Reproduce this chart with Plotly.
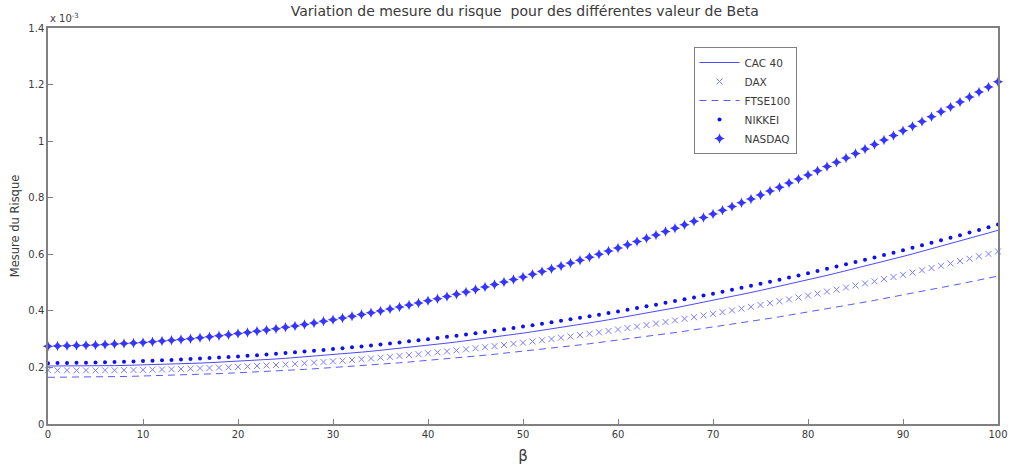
import plotly.graph_objects as go

beta = list(range(0, 101))

cac40 = [0.2050, 0.2049, 0.2049, 0.2050, 0.2052, 0.2055, 0.2059, 0.2064, 0.2070, 0.2077,
         0.2085, 0.2093, 0.2103, 0.2114, 0.2126, 0.2139, 0.2153, 0.2168, 0.2183, 0.2200,
         0.2218, 0.2237, 0.2257, 0.2277, 0.2299, 0.2322, 0.2346, 0.2370, 0.2396, 0.2423,
         0.2451, 0.2479, 0.2509, 0.2540, 0.2571, 0.2604, 0.2638, 0.2672, 0.2708, 0.2744,
         0.2782, 0.2821, 0.2860, 0.2901, 0.2942, 0.2985, 0.3028, 0.3073, 0.3118, 0.3165,
         0.3213, 0.3261, 0.3310, 0.3361, 0.3412, 0.3465, 0.3518, 0.3573, 0.3628, 0.3685,
         0.3742, 0.3800, 0.3860, 0.3920, 0.3982, 0.4044, 0.4107, 0.4172, 0.4237, 0.4303,
         0.4371, 0.4439, 0.4508, 0.4578, 0.4650, 0.4722, 0.4795, 0.4869, 0.4945, 0.5021,
         0.5098, 0.5176, 0.5255, 0.5336, 0.5417, 0.5499, 0.5582, 0.5666, 0.5751, 0.5837,
         0.5924, 0.6013, 0.6102, 0.6192, 0.6283, 0.6375, 0.6468, 0.6562, 0.6657, 0.6753,
         0.6850]

dax = [0.1900, 0.1897, 0.1896, 0.1895, 0.1895, 0.1896, 0.1898, 0.1901, 0.1905, 0.1909,
       0.1915, 0.1921, 0.1929, 0.1937, 0.1946, 0.1956, 0.1967, 0.1979, 0.1992, 0.2005,
       0.2020, 0.2035, 0.2052, 0.2069, 0.2087, 0.2106, 0.2126, 0.2147, 0.2169, 0.2191,
       0.2215, 0.2239, 0.2265, 0.2291, 0.2318, 0.2346, 0.2375, 0.2405, 0.2436, 0.2467,
       0.2500, 0.2533, 0.2568, 0.2603, 0.2639, 0.2676, 0.2714, 0.2753, 0.2793, 0.2833,
       0.2875, 0.2917, 0.2961, 0.3005, 0.3050, 0.3096, 0.3143, 0.3191, 0.3240, 0.3289,
       0.3340, 0.3391, 0.3444, 0.3497, 0.3551, 0.3606, 0.3662, 0.3719, 0.3777, 0.3835,
       0.3895, 0.3955, 0.4017, 0.4079, 0.4142, 0.4206, 0.4271, 0.4337, 0.4404, 0.4471,
       0.4540, 0.4609, 0.4680, 0.4751, 0.4823, 0.4896, 0.4970, 0.5045, 0.5121, 0.5197,
       0.5275, 0.5353, 0.5433, 0.5513, 0.5594, 0.5676, 0.5759, 0.5843, 0.5928, 0.6013,
       0.6100]

ftse100 = [0.1650, 0.1651, 0.1653, 0.1656, 0.1660, 0.1664, 0.1669, 0.1674, 0.1680, 0.1687,
           0.1695, 0.1703, 0.1712, 0.1722, 0.1732, 0.1743, 0.1755, 0.1768, 0.1781, 0.1795,
           0.1809, 0.1824, 0.1840, 0.1857, 0.1874, 0.1893, 0.1911, 0.1931, 0.1951, 0.1972,
           0.1993, 0.2015, 0.2038, 0.2062, 0.2086, 0.2111, 0.2137, 0.2163, 0.2191, 0.2218,
           0.2247, 0.2276, 0.2306, 0.2336, 0.2368, 0.2400, 0.2432, 0.2466, 0.2500, 0.2535,
           0.2570, 0.2606, 0.2643, 0.2681, 0.2719, 0.2758, 0.2797, 0.2838, 0.2879, 0.2920,
           0.2963, 0.3006, 0.3050, 0.3094, 0.3139, 0.3185, 0.3232, 0.3279, 0.3327, 0.3376,
           0.3425, 0.3475, 0.3526, 0.3577, 0.3630, 0.3683, 0.3736, 0.3790, 0.3845, 0.3901,
           0.3957, 0.4014, 0.4072, 0.4130, 0.4189, 0.4249, 0.4310, 0.4371, 0.4433, 0.4496,
           0.4559, 0.4623, 0.4687, 0.4753, 0.4819, 0.4886, 0.4953, 0.5021, 0.5090, 0.5160,
           0.5230]

nikkei = [0.2150, 0.2153, 0.2157, 0.2162, 0.2168, 0.2175, 0.2183, 0.2192, 0.2202, 0.2212,
          0.2224, 0.2236, 0.2250, 0.2264, 0.2279, 0.2295, 0.2312, 0.2330, 0.2349, 0.2369,
          0.2390, 0.2412, 0.2434, 0.2458, 0.2482, 0.2508, 0.2534, 0.2561, 0.2590, 0.2619,
          0.2649, 0.2680, 0.2712, 0.2744, 0.2778, 0.2813, 0.2848, 0.2885, 0.2922, 0.2961,
          0.3000, 0.3040, 0.3081, 0.3123, 0.3166, 0.3210, 0.3255, 0.3301, 0.3348, 0.3395,
          0.3444, 0.3493, 0.3544, 0.3595, 0.3647, 0.3700, 0.3754, 0.3809, 0.3865, 0.3922,
          0.3980, 0.4039, 0.4098, 0.4159, 0.4220, 0.4283, 0.4346, 0.4410, 0.4476, 0.4542,
          0.4609, 0.4677, 0.4746, 0.4815, 0.4886, 0.4958, 0.5030, 0.5104, 0.5178, 0.5254,
          0.5330, 0.5407, 0.5485, 0.5564, 0.5644, 0.5725, 0.5807, 0.5890, 0.5974, 0.6058,
          0.6144, 0.6230, 0.6318, 0.6406, 0.6495, 0.6585, 0.6676, 0.6768, 0.6861, 0.6955,
          0.7050]

nasdaq = [0.2750, 0.2755, 0.2763, 0.2771, 0.2782, 0.2795, 0.2809, 0.2825, 0.2843, 0.2863,
          0.2884, 0.2907, 0.2932, 0.2959, 0.2987, 0.3018, 0.3050, 0.3084, 0.3119, 0.3157,
          0.3196, 0.3237, 0.3280, 0.3324, 0.3371, 0.3419, 0.3469, 0.3520, 0.3574, 0.3629,
          0.3686, 0.3745, 0.3805, 0.3868, 0.3932, 0.3998, 0.4065, 0.4135, 0.4206, 0.4279,
          0.4354, 0.4431, 0.4509, 0.4589, 0.4671, 0.4755, 0.4840, 0.4928, 0.5017, 0.5107,
          0.5200, 0.5294, 0.5391, 0.5489, 0.5588, 0.5690, 0.5793, 0.5898, 0.6005, 0.6114,
          0.6224, 0.6336, 0.6450, 0.6566, 0.6683, 0.6803, 0.6924, 0.7047, 0.7171, 0.7298,
          0.7426, 0.7556, 0.7688, 0.7821, 0.7957, 0.8094, 0.8233, 0.8373, 0.8516, 0.8660,
          0.8806, 0.8954, 0.9103, 0.9255, 0.9408, 0.9563, 0.9719, 0.9878, 1.0038, 1.0200,
          1.0364, 1.0530, 1.0697, 1.0866, 1.1037, 1.1210, 1.1384, 1.1561, 1.1739, 1.1918,
          1.2100]

x_ticks = [0, 10, 20, 30, 40, 50, 60, 70, 80, 90, 100]
y_ticks = [0, 0.2, 0.4, 0.6, 0.8, 1.0, 1.2, 1.4]
y_tick_text = ["0", "0.2", "0.4", "0.6", "0.8", "1", "1.2", "1.4"]

FONT = "DejaVu Sans, Verdana, sans-serif"
TXT = "#3a3a3a"

fig = go.Figure()
fig.add_trace(go.Scatter(x=beta, y=cac40, name="CAC 40", mode="lines",
                         line=dict(color="#4a4aff", width=1), cliponaxis=False))
fig.add_trace(go.Scatter(x=beta, y=dax, name="DAX", mode="markers",
                         marker=dict(symbol="x-thin-open", size=6, color="#7a7aff",
                                     line=dict(width=1, color="#7a7aff")), cliponaxis=False))
fig.add_trace(go.Scatter(x=beta, y=ftse100, name="FTSE100", mode="lines",
                         line=dict(color="#5a5aff", width=1, dash="7px,5px"), cliponaxis=False))
fig.add_trace(go.Scatter(x=beta, y=nikkei, name="NIKKEI", mode="markers",
                         marker=dict(symbol="circle", size=4, color="#1010ee",
                                     line=dict(width=0)), cliponaxis=False))
fig.add_trace(go.Scatter(x=beta, y=nasdaq, name="NASDAQ", mode="markers",
                         marker=dict(symbol="star-diamond", size=7.5, color="#3535ff",
                                     line=dict(width=0)), cliponaxis=False))

axis_common = dict(showline=True, linecolor="#808080", linewidth=1.5, mirror=True,
                   ticks="inside", ticklen=5, tickcolor="#808080", tickwidth=1,
                   showgrid=False, zeroline=False,
                   tickfont=dict(family=FONT, size=10, color=TXT))

fig.update_layout(
    width=1020, height=474,
    margin=dict(l=48, r=15, t=28, b=49),
    paper_bgcolor="white", plot_bgcolor="white",
    font=dict(family=FONT, color=TXT),
    title=dict(text="Variation de mesure du risque  pour des différentes valeur de Beta",
               x=0.5145, xanchor="center", y=0.977, yanchor="middle",
               font=dict(family=FONT, size=14, color=TXT)),
    xaxis=dict(range=[0, 100], tickvals=x_ticks,
               title=dict(text="β", font=dict(family=FONT, size=15, color=TXT),
                          standoff=12),
               **axis_common),
    yaxis=dict(range=[0, 1.4], tickvals=y_ticks, ticktext=y_tick_text,
               title=dict(text="Mesure du Risque", font=dict(family=FONT, size=11.5, color=TXT),
                          standoff=6),
               **axis_common),
    legend=dict(x=0.6795, y=0.952, xanchor="left", yanchor="top",
                bgcolor="white", bordercolor="#808080", borderwidth=1,
                font=dict(family=FONT, size=10.5, color=TXT),
                tracegroupgap=0, itemwidth=40),
    annotations=[dict(text="x 10<sup>-3</sup>", xref="paper", yref="paper",
                      x=0, y=1, xanchor="left", yanchor="bottom", yshift=2,
                      showarrow=False, font=dict(family=FONT, size=10, color=TXT))],
)

fig.write_html("out.html")
